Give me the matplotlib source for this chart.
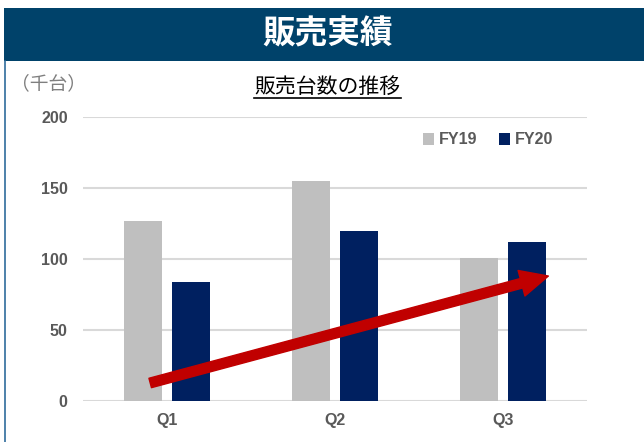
import matplotlib.pyplot as plt
from matplotlib.patches import Rectangle
from matplotlib.lines import Line2D
import numpy as np

quarters = ['Q1', 'Q2', 'Q3']
fy19 = [127, 155, 101]
fy20 = [84, 120, 112]
series_names = ['FY19', 'FY20']
y_ticks = [0, 50, 100, 150, 200]

plt.rcParams['font.family'] = ['Liberation Sans', 'Noto Sans CJK JP', 'DejaVu Sans']
jp = ['Noto Sans CJK JP', 'DejaVu Sans']

fig = plt.figure(figsize=(6.44, 4.42), dpi=100)

# header band
fig.add_artist(Rectangle((4 / 644, 1 - 61 / 442), 1, 53 / 442,
                         transform=fig.transFigure, color='#00426A', lw=0))
fig.text(328 / 644, 1 - 34 / 442, '販売実績', color='white', fontsize=23.5,
         fontweight='bold', ha='center', va='center', family=jp)
# thin frame line on the left
fig.add_artist(Line2D([4.5 / 644, 4.5 / 644], [0, 1 - 61 / 442],
                      transform=fig.transFigure, color='#2F6C9C', lw=1.2))

fig.text(11 / 644, 1 - 84 / 442, '（千台）', color='#7F7F7F', fontsize=13.5,
         ha='left', va='center', family=jp)
fig.text(327.5 / 644, 1 - 87 / 442, '販売台数の推移', color='black', fontsize=15,
         ha='center', va='center', family=jp)
fig.add_artist(Line2D([254 / 644, 401 / 644], [1 - 97.5 / 442, 1 - 97.5 / 442],
                      transform=fig.transFigure, color='black', lw=1.2))

ax = fig.add_axes([83 / 644, 1 - 401 / 442, 504 / 644, 284 / 442])
x = np.arange(len(quarters))
w = 0.228
ax.bar(x - 0.142, fy19, w, color='#BFBFBF', label=series_names[0], zorder=2)
ax.bar(x + 0.142, fy20, w, color='#002060', label=series_names[1], zorder=2)

ax.set_xlim(-0.5, 2.5)
ax.set_ylim(0, 200)
ax.set_yticks(y_ticks)
ax.set_xticks(x)
ax.set_xticklabels(quarters)
ax.grid(axis='y', color='#D9D9D9', lw=1.5, zorder=0)
for s in ax.spines.values():
    s.set_visible(False)
ax.tick_params(length=0, colors='#595959', labelsize=11.5)
ax.tick_params(axis='y', pad=11)
ax.tick_params(axis='x', pad=9)
for lab in ax.get_xticklabels() + ax.get_yticklabels():
    lab.set_fontweight('bold')

ax.legend(loc='center', bbox_to_anchor=(488 / 644, 1 - 140 / 442),
          bbox_transform=fig.transFigure, ncol=2, frameon=False,
          handlelength=0.7, handleheight=0.7, handletextpad=0.25,
          columnspacing=1.4, prop={'weight': 'bold', 'size': 11.5},
          labelcolor='#595959')

# trend arrow
ax.annotate('', xy=(2.27, 88), xytext=(-0.1, 12.7),
            arrowprops=dict(width=7, headwidth=19, headlength=20,
                            color='#C00000', shrink=0), zorder=3)

fig.savefig('out.png', dpi=100)
